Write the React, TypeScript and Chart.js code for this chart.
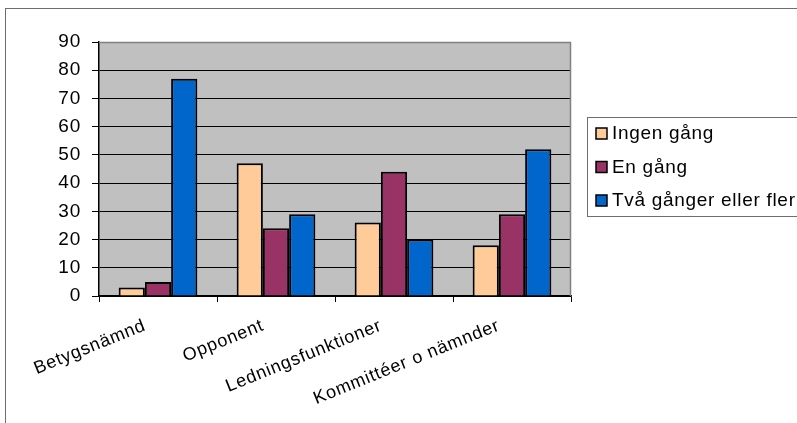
import React, { useEffect, useRef } from "react";
import { Chart, registerables } from "chart.js";

Chart.register(...registerables);

const categories = ["Betygsnämnd", "Opponent", "Ledningsfunktioner", "Kommittéer o nämnder"];
const seriesNames = ["Ingen gång", "En gång", "Två gånger eller fler"];
const ingenGang = [3, 47, 26, 18];
const enGang = [5, 24, 44, 29];
const tvaGanger = [77, 29, 20, 52];
const seriesColors = ["#FFCC99", "#993366", "#0066CC"];
const yTicks = [0, 10, 20, 30, 40, 50, 60, 70, 80, 90];

const FONT = "'Liberation Sans', Arial, sans-serif";

// Grey plot background, frame lines and a boxed legend on the right.
const framePlugin = {
  id: "frame",
  beforeDraw(chart: any) {
    const { ctx, chartArea: a } = chart;
    ctx.fillStyle = "#ffffff";
    ctx.fillRect(0, 0, chart.width, chart.height);
    // outer chart border (top and left visible)
    ctx.strokeStyle = "#6e6e6e";
    ctx.lineWidth = 1;
    ctx.strokeRect(5.5, 8.5, 900, 600);
    ctx.fillStyle = "#C0C0C0";
    ctx.fillRect(a.left, a.top, a.right - a.left, a.bottom - a.top);
    // wider glyph spacing for the axis labels
    (ctx as any).letterSpacing = "0.8px";
  },
  afterDraw(chart: any) {
    const { ctx, chartArea: a } = chart;
    ctx.save();
    // plot frame top/right
    ctx.strokeStyle = "#808080";
    ctx.lineWidth = 1.5;
    ctx.beginPath();
    ctx.moveTo(a.left, a.top + 0.5);
    ctx.lineTo(a.right - 0.5, a.top + 0.5);
    ctx.lineTo(a.right - 0.5, a.bottom);
    ctx.stroke();

    // legend
    ctx.strokeStyle = "#6e6e6e";
    ctx.lineWidth = 1;
    ctx.strokeRect(587.5, 117.5, 240, 99);
    ctx.font = `19px ${FONT}`;
    (ctx as any).letterSpacing = "0.7px";
    ctx.textBaseline = "middle";
    ctx.textAlign = "left";
    chart.data.datasets.forEach((ds: any, i: number) => {
      const cy = 134 + i * 33.5;
      ctx.fillStyle = ds.backgroundColor;
      ctx.fillRect(596, cy - 6, 11, 11);
      ctx.strokeStyle = "#000";
      ctx.lineWidth = 1.5;
      ctx.strokeRect(596, cy - 6, 11, 11);
      ctx.fillStyle = "#000";
      ctx.fillText(ds.label, 612, cy);
    });
    ctx.restore();
  },
};

export default function App() {
  const ref = useRef<HTMLCanvasElement>(null);

  useEffect(() => {
    if (!ref.current) return;
    const series = [ingenGang, enGang, tvaGanger];
    const chart = new Chart(ref.current, {
      type: "bar",
      data: {
        labels: categories,
        datasets: series.map((d, i) => ({
          label: seriesNames[i],
          data: d,
          backgroundColor: seriesColors[i],
          borderColor: "#000000",
          borderWidth: 2,
          categoryPercentage: 0.667,
          barPercentage: 1,
        })),
      },
      options: {
        animation: false,
        responsive: false,
        maintainAspectRatio: false,
        layout: { padding: { top: 42, right: 226, left: 0, bottom: 0 } },
        plugins: { legend: { display: false }, tooltip: { enabled: false } },
        scales: {
          x: {
            offset: true,
            grid: {
              display: true,
              offset: true,
              drawOnChartArea: false,
              drawTicks: true,
              tickLength: 6,
              color: "#000",
            },
            border: { display: true, color: "#000", width: 1.5 },
            ticks: {
              color: "#000",
              font: { family: FONT, size: 18 },
              minRotation: 22,
              maxRotation: 22,
              autoSkip: false,
              padding: 13,
              labelOffset: -13,
            },
            afterFit(scale: any) {
              scale.height = 127;
            },
          },
          y: {
            min: 0,
            max: 90,
            afterBuildTicks(scale: any) {
              scale.ticks = yTicks.map((v) => ({ value: v }));
            },
            grid: {
              color: "#000",
              lineWidth: 1,
              drawTicks: true,
              tickLength: 7,
            },
            border: { display: true, color: "#000", width: 1.5 },
            ticks: {
              color: "#000",
              font: { family: FONT, size: 19 },
              padding: 11,
            },
            afterFit(scale: any) {
              scale.width = 99;
            },
          },
        },
      },
      plugins: [framePlugin],
    });
    return () => chart.destroy();
  }, []);

  return (
    <div style={{ position: "fixed", left: 0, top: 0, width: 797, height: 423 }}>
      <canvas ref={ref} width={797} height={423} style={{ display: "block" }} />
    </div>
  );
}
